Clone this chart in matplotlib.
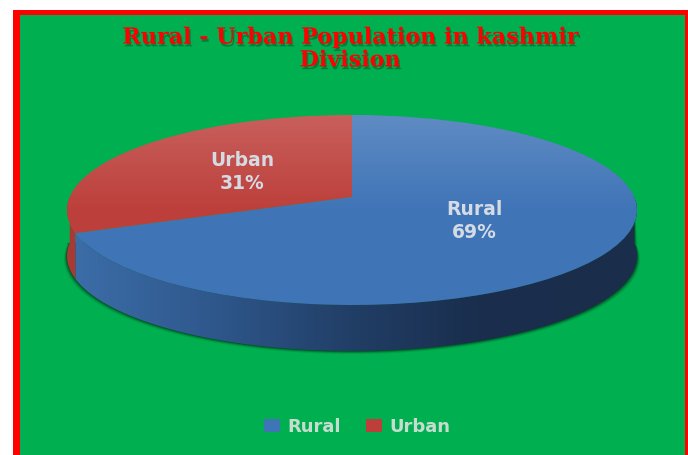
import numpy as np
import matplotlib
matplotlib.use('Agg')
import matplotlib.pyplot as plt
import matplotlib.patheffects as pe
from matplotlib.colors import LinearSegmentedColormap
from matplotlib.patches import Polygon, Rectangle
from matplotlib.transforms import Transform

categories = ['Rural', 'Urban']
values = [69, 31]
colors = ['#3f74b7', '#bd3f3b']
title = 'Rural - Urban Population in kashmir\nDivision'

# pie face on the page, in pixels
CX, CY, RX, RY = 352, 210, 285, 95
TILT = 0.137  # moves the pie centre up, looks like perspective
DEPTH = 46


def tilt_xy(u, v):
    d = 1 + TILT * v
    x = CX + RX * u * np.sqrt(1 - TILT ** 2) / d
    y = CY - RY * (v + TILT) / d
    return x, y


class TiltTransform(Transform):
    input_dims = 2
    output_dims = 2

    def transform_non_affine(self, values):
        x, y = tilt_xy(values[:, 0], values[:, 1])
        return np.column_stack([x, y])


def rim(theta1, theta2):
    a = np.radians(np.linspace(theta1, theta2, 200))
    return tilt_xy(np.cos(a), np.sin(a))


def wall_polygon(theta1, theta2, **kw):
    x, y = rim(theta1, theta2)
    xy = np.column_stack([np.r_[x, x[::-1]], np.r_[y, y[::-1] + DEPTH]])
    return Polygon(xy, closed=True, linewidth=0, **kw)


fig = plt.figure(figsize=(6.88, 4.55), dpi=100, facecolor='white')
ax = fig.add_axes([0, 0, 1, 1])

wedges, _ = ax.pie(values, colors=colors, startangle=90, counterclock=False)
ax.set_aspect('auto')
ax.set_xlim(0, 688)
ax.set_ylim(455, 0)
ax.axis('off')

# frame
ax.add_patch(Rectangle((13, 10), 680, 450, fc='#ff0000', ec='none', zorder=0))
ax.add_patch(Rectangle((20, 15), 665, 445, fc='#00b050', ec='none', zorder=0.1))

rural, urban = wedges

# soft shadow under the side wall
for off, alpha in [(3, 0.15), (2, 0.25), (1.2, 0.35), (0.6, 0.5)]:
    x, y = rim(-180, 0)
    xy = np.column_stack([np.r_[x[0] - off, x, x[-1] + off, x[-1]],
                          np.r_[y[0] + DEPTH, y + DEPTH + off, y[-1] + DEPTH, y[-1]]])
    xy[1:-2, 0] = CX + (x - CX) * (1 + off / RX)
    ax.add_patch(Polygon(xy, closed=True, fc='#00401c', ec='none', alpha=alpha, zorder=1))

# side walls
ax.add_patch(wall_polygon(-180, urban.theta2, fc='#a83a36', zorder=2))
rural_wall = wall_polygon(rural.theta1, 0, fc='none', zorder=3)
ax.add_patch(rural_wall)
wall_cmap = LinearSegmentedColormap.from_list(
    'wall', [(0, '#3d6ea9'), (0.25, '#2f588d'), (0.5, '#213e66'), (0.72, '#1a2e4d'), (1, '#1a2d4b')])
im = ax.imshow(np.linspace(0, 1, 256)[None, :], cmap=wall_cmap, extent=(67, 637, 360, 200),
               aspect='auto', zorder=3)
im.set_clip_path(rural_wall)

# top face, pie wedges bent into place
tilt = TiltTransform() + ax.transData
for w in wedges:
    w.set_transform(tilt)
    w.set_zorder(4)
    w.set_clip_on(False)
    w.set_linewidth(0)
    shine = np.ones((256, 1, 4))
    shine[:, 0, 3] = np.clip(np.linspace(0.17, -0.04, 256), 0, 1)
    im = ax.imshow(shine, extent=(67, 637, 235, 115), aspect='auto', zorder=5)
    im.set_clip_path(w)

ax.set_xlim(0, 688)
ax.set_ylim(455, 0)

# labels
label_pos = [(474, 221), (242, 172)]
for name, val, (lx, ly) in zip(categories, values, label_pos):
    ax.text(lx, ly, f'{name}\n{val}%', color='#d5dbe4', fontsize=13.5, family='DejaVu Sans',
            weight='bold', ha='center', va='center', linespacing=1.3, zorder=6)

ax.text(350, 49, title, color='#ff0000', fontsize=16, family='DejaVu Serif', weight='bold',
        ha='center', va='center', linespacing=1.05, zorder=6,
        path_effects=[pe.withSimplePatchShadow(offset=(1, -2), shadow_rgbFace='#0b5c2c', alpha=0.6)])

ax.legend(wedges, categories, loc='center', bbox_to_anchor=(357 / 688, 1 - 427 / 455),
          ncol=2, frameon=False, fontsize=13, labelcolor='#c5dccf', handlelength=0.9,
          handleheight=0.7, handletextpad=0.4, columnspacing=1.4, borderpad=0,
          prop={'family': 'DejaVu Sans', 'weight': 'bold', 'size': 13})

fig.savefig('out.png', dpi=100, facecolor='white')
